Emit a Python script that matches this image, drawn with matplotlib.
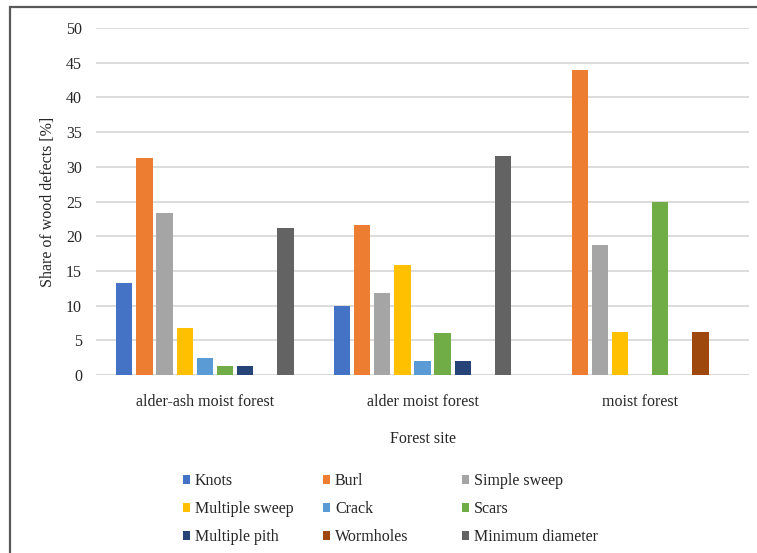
import numpy as np
import matplotlib
matplotlib.use("Agg")
import matplotlib.pyplot as plt
from matplotlib.patches import Rectangle, Patch

plt.rcParams['font.family'] = ['Liberation Serif', 'DejaVu Serif']

# Share of wood defects per forest site [%]
sites = ['alder-ash moist forest', 'alder moist forest', 'moist forest']
defects = ['Knots', 'Burl', 'Simple sweep', 'Multiple sweep', 'Crack',
           'Scars', 'Multiple pith', 'Wormholes', 'Minimum diameter']

knots = [13.3, 9.9, 0.0]
burl = [31.3, 21.6, 43.9]
simple_sweep = [23.3, 11.8, 18.7]
multiple_sweep = [6.8, 15.8, 6.2]
crack = [2.4, 2.0, 0.0]
scars = [1.3, 6.0, 25.0]
multiple_pith = [1.3, 2.0, 0.0]
wormholes = [0.0, 0.0, 6.2]
minimum_diameter = [21.2, 31.5, 0.0]

series = [knots, burl, simple_sweep, multiple_sweep, crack,
          scars, multiple_pith, wormholes, minimum_diameter]
colors = ['#4472C4', '#ED7D31', '#A5A5A5', '#FFC000', '#5B9BD5',
          '#70AD47', '#264478', '#9E480E', '#636363']

fig = plt.figure(figsize=(7.57, 5.53), dpi=100)
ax = fig.add_axes([96 / 757, 1 - 375 / 553, 653 / 757, 347 / 553])

x = np.arange(len(sites))
slot = 0.0925
width = 0.075
for i, (vals, col) in enumerate(zip(series, colors)):
    offs = (i - 4) * slot
    ax.bar(x + offs, vals, width, color=col, label=defects[i], zorder=3)

ax.set_xlim(-0.5, 2.5)
ax.set_ylim(0, 50)
ax.set_yticks(range(0, 51, 5))
ax.yaxis.grid(True, color='#d9d9d9', linewidth=1.3, zorder=0)
for s in ax.spines.values():
    s.set_visible(False)
ax.axhline(0, color='#d9d9d9', linewidth=1.3, zorder=1)
ax.tick_params(axis='both', length=0, labelsize=11.5, colors='#262626')
ax.tick_params(axis='y', pad=10)
ax.tick_params(axis='x', pad=14)
ax.set_xticks(x)
ax.set_xticklabels(sites)
ax.set_ylabel('Share of wood defects [%]', fontsize=11.5, color='#262626', labelpad=7)
ax.set_xlabel('Forest site', fontsize=11.5, color='#262626', labelpad=15)

# legend: three columns of three entries, placed side by side
col_x = [183, 323, 462]
for c in range(3):
    handles = [Patch(facecolor=colors[c + 3 * r]) for r in range(3)]
    labels = [defects[c + 3 * r] for r in range(3)]
    fig.legend(handles, labels, loc='upper left',
               bbox_to_anchor=(col_x[c] / 757, 1 - 473 / 553),
               frameon=False, fontsize=11.5, handlelength=0.45,
               handleheight=0.45, handletextpad=0.3, labelspacing=0.75,
               borderpad=0, borderaxespad=0, labelcolor='#262626')

# chart border
fig.add_artist(Rectangle((9.5 / 757, -0.05), 1.0, 1 - 7.5 / 553 + 0.05,
                         transform=fig.transFigure, fill=False,
                         edgecolor='#595959', linewidth=1.6))

fig.savefig('out.png', dpi=100)
